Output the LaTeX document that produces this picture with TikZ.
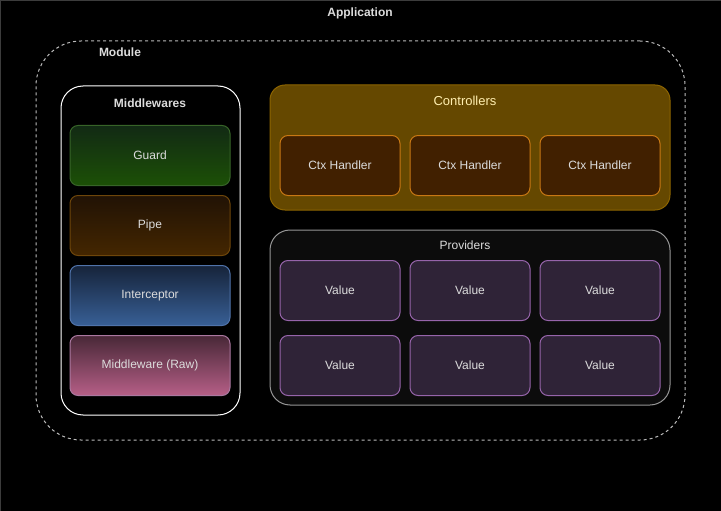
\documentclass[tikz,border=0pt]{standalone}
\usepackage{fontspec}
\setmainfont{Liberation Sans}
\usetikzlibrary{positioning}

\definecolor{txtgray}{RGB}{220,220,220}
\definecolor{frame}{RGB}{60,60,60}
\definecolor{guardtop}{RGB}{18,42,20}
\definecolor{guardbot}{RGB}{28,80,6}
\definecolor{guardline}{RGB}{55,100,40}
\definecolor{pipetop}{RGB}{33,18,5}
\definecolor{pipebot}{RGB}{68,38,0}
\definecolor{pipeline}{RGB}{110,70,10}
\definecolor{intertop}{RGB}{22,35,58}
\definecolor{interbot}{RGB}{56,96,150}
\definecolor{interline}{RGB}{80,115,170}
\definecolor{rawtop}{RGB}{72,40,55}
\definecolor{rawbot}{RGB}{182,95,135}
\definecolor{rawline}{RGB}{170,120,160}
\definecolor{ctrlfill}{RGB}{101,72,0}
\definecolor{ctrlline}{RGB}{140,100,0}
\definecolor{ctrltxt}{RGB}{255,238,175}
\definecolor{ctxfill}{RGB}{65,32,0}
\definecolor{ctxline}{RGB}{200,120,20}
\definecolor{provfill}{RGB}{12,12,12}
\definecolor{provline}{RGB}{150,150,150}
\definecolor{valfill}{RGB}{47,35,55}
\definecolor{valline}{RGB}{150,100,170}

\begin{document}
\begin{tikzpicture}[x=1pt,y=-1pt,
	every node/.style={font=\fontsize{12}{14}\selectfont,text=txtgray,inner sep=0pt},
	title/.style={font=\fontsize{12}{14}\selectfont\bfseries},
	group/.style={draw,rounded corners=#1,line width=1pt},
	box/.style={rounded corners=8pt,line width=1pt,minimum height=60pt},
	mbox/.style={box,minimum width=160pt},
	cbox/.style={box,minimum width=120pt}]
		\useasboundingbox (0,0) rectangle (721,511);
		%Background
		\fill[black] (0,0) rectangle (721,511);
		\draw[frame] (0.5,511.5) -- (0.5,0.5) -- (721.5,0.5);
		\node[title] (app) at (360,13.5) {Application};
		%Module
		\node[group=45pt,draw=txtgray!85!black,dash pattern=on 3pt off 3pt,
			minimum width=649pt,minimum height=399pt] (module) at (360.5,240.5) {};
		\node[title] (modlbl) at (120,52.5) {Module};
		%Middlewares
		\node[group=22pt,draw=white,fill=black,minimum width=179pt,minimum height=329pt] (mw) at (150.5,250.5) {};
		\node[title] (mwlbl) at (150,103.5) {Middlewares};
		\foreach \name/\lbl/\c [count=\i] in {guard/Guard/guard,pipe/Pipe/pipe,
			inter/Interceptor/inter,raw/Middleware (Raw)/raw}
			\node[mbox,draw=\c line,top color=\c top,bottom color=\c bot] (\name)
				at (150,{155.5+70*(\i-1)}) {\lbl};
		%Controllers
		\node[group=15pt,draw=ctrlline,fill=ctrlfill,minimum width=400pt,minimum height=125pt] (ctrl) at (470,147.5) {};
		\node[text=ctrltxt,font=\fontsize{13}{15}\selectfont] (ctrllbl) at (465,100.5) {Controllers};
		\foreach \i in {1,2,3}
			\node[cbox,draw=ctxline,fill=ctxfill] (ctx\i) at ({210+130*\i},165.5) {Ctx Handler};
		%Providers
		\node[group=20pt,draw=provline,fill=provfill,minimum width=400pt,minimum height=175pt] (prov) at (470,317.5) {};
		\node (provlbl) at (465,245.5) {Providers};
		\foreach \r/\y in {1/290.5,2/365.5}
			\foreach \i in {1,2,3}
				\node[cbox,draw=valline,fill=valfill] (val\r\i) at ({210+130*\i},\y) {Value};
		\end{tikzpicture}
\end{document}
